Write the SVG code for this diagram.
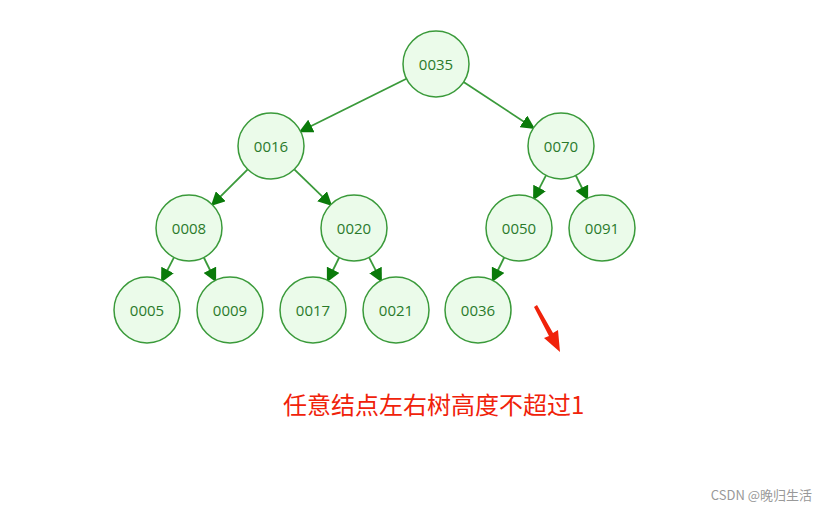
<svg xmlns="http://www.w3.org/2000/svg" width="837" height="515" viewBox="0 0 837 515">
<style>
.n circle{fill:#ebfbea;stroke:#3a9a3a;stroke-width:1.5}
.n text{font-family:"Open Sans","Liberation Sans",sans-serif;font-size:15px;fill:#2a7a2a;text-anchor:middle;dominant-baseline:central}
#edges line{stroke:#3a9a3a;stroke-width:1.8;marker-end:url(#ah)}
</style>
<defs><marker id="ah" markerWidth="8" markerHeight="8" refX="7" refY="4" orient="auto" markerUnits="userSpaceOnUse" viewBox="0 0 8 8"><path d="M0,0 L8,4 L0,8 Z" fill="#0a7a0a" transform="scale(1)"/></marker>
<marker id="ah2" markerWidth="14" markerHeight="14" refX="12" refY="7" orient="auto" markerUnits="userSpaceOnUse"><path d="M0,0 L14,7 L0,14 Z" fill="#0a7a0a"/></marker></defs>
<rect width="837" height="515" fill="#fff"/>
<g id="edges" style="--m:url(#ah2)">
<line x1="406.4" y1="78.7" x2="300.6" y2="131.3" style="marker-end:url(#ah2)"/>
<line x1="463.6" y1="82.1" x2="533.4" y2="127.9" style="marker-end:url(#ah2)"/>
<line x1="247.7" y1="169.3" x2="212.3" y2="204.7" style="marker-end:url(#ah2)"/>
<line x1="294.3" y1="169.3" x2="330.7" y2="204.7" style="marker-end:url(#ah2)"/>
<line x1="546" y1="175.4" x2="534" y2="198.6" style="marker-end:url(#ah2)"/>
<line x1="575.8" y1="175.5" x2="587.2" y2="198.5" style="marker-end:url(#ah2)"/>
<line x1="174" y1="257.4" x2="162" y2="280.6" style="marker-end:url(#ah2)"/>
<line x1="203.8" y1="257.5" x2="215.2" y2="280.5" style="marker-end:url(#ah2)"/>
<line x1="339.2" y1="257.5" x2="327.8" y2="280.5" style="marker-end:url(#ah2)"/>
<line x1="369" y1="257.4" x2="381" y2="280.6" style="marker-end:url(#ah2)"/>
<line x1="504.2" y1="257.5" x2="492.8" y2="280.5" style="marker-end:url(#ah2)"/>
</g>
<g id="n0035" class="n"><circle cx="436" cy="64" r="33"/><text x="436" y="64">0035</text></g>
<g id="n0016" class="n"><circle cx="271" cy="146" r="33"/><text x="271" y="146">0016</text></g>
<g id="n0070" class="n"><circle cx="561" cy="146" r="33"/><text x="561" y="146">0070</text></g>
<g id="n0008" class="n"><circle cx="189" cy="228" r="33"/><text x="189" y="228">0008</text></g>
<g id="n0020" class="n"><circle cx="354" cy="228" r="33"/><text x="354" y="228">0020</text></g>
<g id="n0050" class="n"><circle cx="519" cy="228" r="33"/><text x="519" y="228">0050</text></g>
<g id="n0091" class="n"><circle cx="602" cy="228" r="33"/><text x="602" y="228">0091</text></g>
<g id="n0005" class="n"><circle cx="147" cy="310" r="33"/><text x="147" y="310">0005</text></g>
<g id="n0009" class="n"><circle cx="230" cy="310" r="33"/><text x="230" y="310">0009</text></g>
<g id="n0017" class="n"><circle cx="313" cy="310" r="33"/><text x="313" y="310">0017</text></g>
<g id="n0021" class="n"><circle cx="396" cy="310" r="33"/><text x="396" y="310">0021</text></g>
<g id="n0036" class="n"><circle cx="478" cy="310" r="33"/><text x="478" y="310">0036</text></g>
<g id="annot">
<path d="M534,307 L537,305 L553,333 L558,330 L560,352 L544,338 L549,336 Z" fill="#f0220a"/>
<text x="283" y="414" font-family="Noto Sans CJK SC,sans-serif" font-size="24" fill="#f0220a">任意结点左右树高度不超过1</text>
<text x="812" y="500" font-family="Noto Sans CJK SC,sans-serif" font-size="13" fill="#999" text-anchor="end">CSDN @晚归生活</text>
</g>
</svg>
